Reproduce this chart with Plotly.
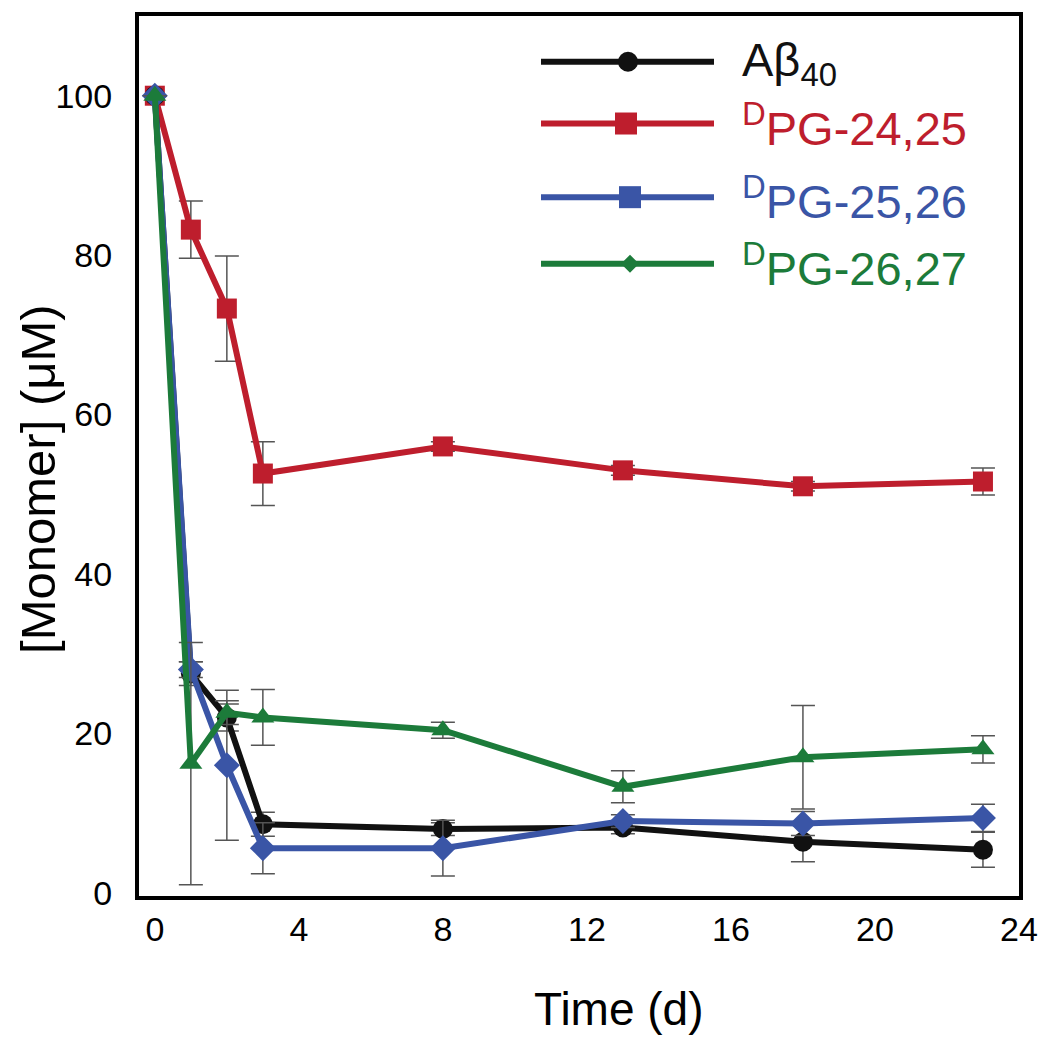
import plotly.graph_objects as go

# time points (days)
time_d = [0, 1, 2, 3, 8, 13, 18, 23]

# monomer concentration (uM) and error bars
abeta40 = [100, 27.5, 22.0, 8.6, 8.0, 8.2, 6.4, 5.4]
abeta40_err = [0, 1.5, 1.7, 1.5, 0.8, 0.8, 2.5, 2.2]

pg2425 = [100, 83.2, 73.3, 52.6, 56.0, 53.0, 51.0, 51.6]
pg2425_err = [0, 3.6, 6.6, 4.0, 0.6, 0.6, 0.6, 1.7]

pg2526 = [100, 28.0, 16.0, 5.6, 5.6, 9.0, 8.7, 9.4]
pg2526_err = [0, 1.0, 9.4, 3.2, 3.5, 0.8, 1.5, 1.7]

pg2627 = [100, 16.2, 22.6, 22.0, 20.4, 13.3, 17.0, 18.0]
pg2627_err = [0, 15.2, 1.5, 3.5, 1.0, 2.0, 6.5, 1.7]

x_ticks = [0, 4, 8, 12, 16, 20, 24]
y_ticks = [0, 20, 40, 60, 80, 100]

BLACK = "#111111"
RED = "#BE1E2D"
BLUE = "#3A55A6"
GREEN = "#1C7B3A"
ERR = "#555555"

series = [
    ("<sup>D</sup>PG-24,25", pg2425, pg2425_err, RED, "square", 20),
    ("Aβ<sub>40</sub>", abeta40, abeta40_err, BLACK, "circle", 20),
    ("<sup>D</sup>PG-25,26", pg2526, pg2526_err, BLUE, "diamond", 20),
    ("<sup>D</sup>PG-26,27", pg2627, pg2627_err, GREEN, "triangle-up", 20),
]

fig = go.Figure()

for name, vals, errs, color, symbol, size in series:
    fig.add_trace(go.Scatter(x=time_d, y=vals,
                             mode="lines+markers",
                             name=name,
                             showlegend=False,
                             line=dict(color=color, width=6),
                             marker=dict(color=color, symbol=symbol, size=size),
                             error_y=dict(type="data", array=errs, visible=True,
                                          color=ERR, thickness=1.5, width=12)))

# hand-drawn legend (long line samples), pixel positions in the screenshot
W, H = 1050, 1050
PAGE = 8  # body margin of the html page
ML, MR, MT, MB = 131, 39, 4, 162


def px(x):
    return (x - PAGE - ML) / (W - ML - MR)


def py(y):
    return (H - MB - (y - PAGE)) / (H - MT - MB)


legend_items = [
    ("Aβ<sub>40</sub>", BLACK, "circle", 58, 628),
    ("<sup>D</sup>PG-24,25", RED, "square", 120, 626),
    ("<sup>D</sup>PG-25,26", BLUE, "square", 194, 630),
    ("<sup>D</sup>PG-26,27", GREEN, "diamond", 261, 630),
]

for text, color, shape, yy, xm in legend_items:
    fig.add_shape(type="line", xref="paper", yref="paper",
                  x0=px(541), x1=px(714), y0=py(yy), y1=py(yy),
                  line=dict(color=color, width=6))
    if shape == "circle":
        fig.add_shape(type="circle", xref="paper", yref="paper",
                      xsizemode="pixel", ysizemode="pixel",
                      xanchor=px(xm), yanchor=py(yy),
                      x0=-10, x1=10, y0=-10, y1=10,
                      fillcolor=color, line=dict(color=color, width=0))
    elif shape == "square":
        fig.add_shape(type="rect", xref="paper", yref="paper",
                      xsizemode="pixel", ysizemode="pixel",
                      xanchor=px(xm), yanchor=py(yy),
                      x0=-11, x1=11, y0=-11, y1=11,
                      fillcolor=color, line=dict(color=color, width=0))
    else:
        fig.add_shape(type="path", xref="paper", yref="paper",
                      xsizemode="pixel", ysizemode="pixel",
                      xanchor=px(xm), yanchor=py(yy),
                      path="M -9 0 L 0 9 L 9 0 L 0 -9 Z",
                      fillcolor=color, line=dict(color=color, width=0))
    fig.add_annotation(text=text, xref="paper", yref="paper",
                       x=px(740), y=py(yy + 1), xanchor="left", yanchor="middle",
                       showarrow=False,
                       font=dict(size=47, color=color))

# axis titles (off-centre in the reference)
fig.add_annotation(text="Time (d)", xref="paper", yref="paper",
                   x=px(619), y=py(1010), xanchor="center", yanchor="middle",
                   showarrow=False, font=dict(size=46))
fig.add_annotation(text="[Monomer] (μM)", xref="paper", yref="paper",
                   x=px(38), y=py(478), xanchor="center", yanchor="middle",
                   textangle=-90, showarrow=False, font=dict(size=49))

fig.update_layout(
    width=W, height=H,
    margin=dict(l=ML, r=MR, t=MT, b=MB),
    plot_bgcolor="white",
    paper_bgcolor="white",
    font=dict(family="Liberation Sans, Arial, sans-serif", color="black"),
)

fig.update_xaxes(range=[-0.44, 24.001], tickvals=x_ticks,
                 showgrid=False, zeroline=False,
                 showline=True, linecolor="black", linewidth=4, mirror=True,
                 ticks="", tickfont=dict(size=34))

fig.update_yaxes(range=[-0.4, 110], tickvals=y_ticks,
                 showgrid=False, zeroline=False,
                 showline=True, linecolor="black", linewidth=4, mirror=True,
                 ticks="outside", ticklen=16, tickcolor="white",
                 tickfont=dict(size=34))

fig.write_html("out.html")
